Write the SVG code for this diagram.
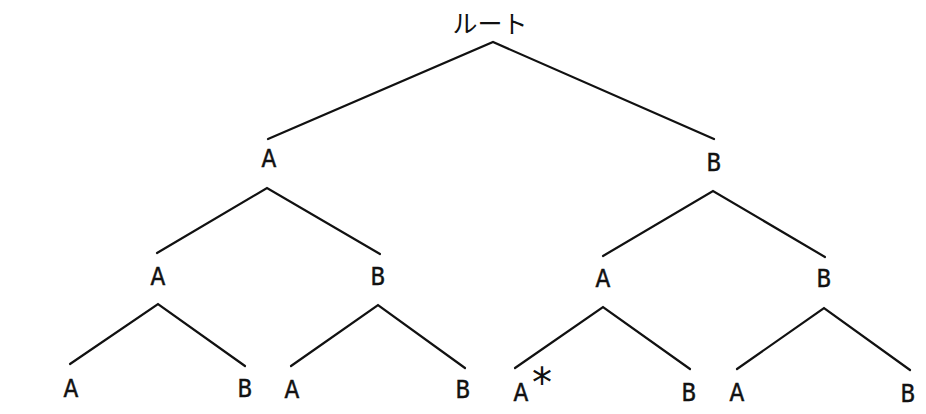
<svg xmlns="http://www.w3.org/2000/svg" width="926" height="414" viewBox="0 0 926 414">
<style>
.e{stroke:#111;stroke-width:2.2;fill:none;stroke-linecap:round}
.l{font-family:"DejaVu Sans Condensed","DejaVu Sans",sans-serif;font-stretch:condensed;font-size:24px;fill:#111;stroke:#111;stroke-width:0.5;text-anchor:middle}
.r{font-family:"Noto Sans CJK JP","Noto Sans",sans-serif;font-size:25px;fill:#111;text-anchor:middle}
.s{font-family:"DejaVu Sans",sans-serif;font-size:40px;fill:#111}
</style>
<rect width="926" height="414" fill="#fff"/>
<g id="connectors">
<polyline class="e" points="268,139 493,42 714,139"/>
<polyline class="e" points="157,253 267,188 380,254"/>
<polyline class="e" points="603,256 713,191 825,257"/>
<polyline class="e" points="70,364 158,304 245,366"/>
<polyline class="e" points="291,366 378,305 465,368"/>
<polyline class="e" points="515,368 603,307 690,369"/>
<polyline class="e" points="737,369 824,308 910,370"/>
</g>
<g id="root"><text class="r" x="490" y="33">ルート</text></g>
<g id="n-A"><text class="l" x="269" y="167">A</text></g>
<g id="n-B"><text class="l" x="714" y="171">B</text></g>
<g id="n-AA"><text class="l" x="158" y="285">A</text></g>
<g id="n-AB"><text class="l" x="378" y="285">B</text></g>
<g id="n-BA"><text class="l" x="603" y="287">A</text></g>
<g id="n-BB"><text class="l" x="824" y="287">B</text></g>
<g id="n-AAA"><text class="l" x="71" y="397">A</text></g>
<g id="n-AAB"><text class="l" x="245" y="397">B</text></g>
<g id="n-ABA"><text class="l" x="292" y="398">A</text></g>
<g id="n-ABB"><text class="l" x="463" y="398">B</text></g>
<g id="n-BAA"><text class="l" x="521" y="401">A</text><text class="s" x="532" y="397">*</text></g>
<g id="n-BAB"><text class="l" x="689" y="401">B</text></g>
<g id="n-BBA"><text class="l" x="737" y="401">A</text></g>
<g id="n-BBB"><text class="l" x="908" y="402">B</text></g>
</svg>
